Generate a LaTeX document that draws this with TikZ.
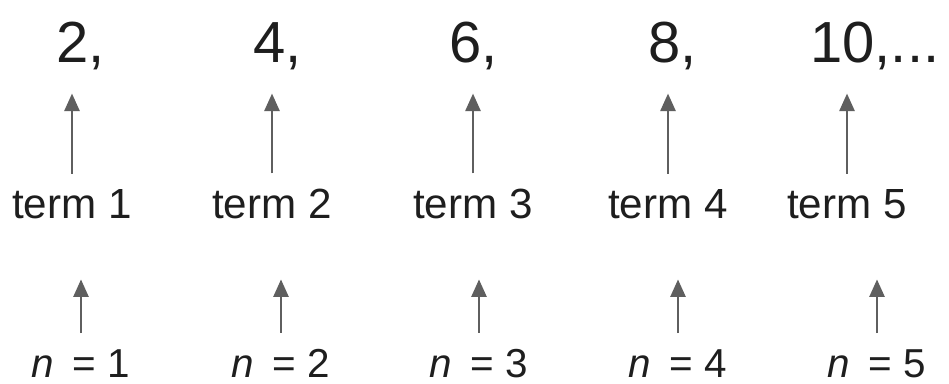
\documentclass[tikz,border=0pt]{standalone}
\usepackage{fontspec}
\setmainfont{Liberation Sans}
\usetikzlibrary{arrows.meta,positioning}
\definecolor{arrowGrey}{RGB}{95,95,95}
\definecolor{textDark}{RGB}{30,30,30}
\tikzset{
  seqnum/.style={anchor=base west, inner sep=0pt, text=textDark, font=\fontsize{33}{36}\selectfont},
  termlbl/.style={anchor=base, inner sep=2pt, text=textDark, font=\fontsize{24}{28}\selectfont},
  nlbl/.style={anchor=base, inner sep=2pt, text=textDark, font=\fontsize{23}{28}\selectfont},
  uparrow/.style={-{Triangle[length=10pt, width=8.5pt]}, line width=1.6pt, arrowGrey}
}
\begin{document}
\begin{tikzpicture}[x=0.02cm, y=-0.02cm]
  \useasboundingbox[fill=white] (0,0) rectangle (949,383);
  % Sequence values
  \node[seqnum] (num1) at (56,62) {2,};
  \node[seqnum] (num2) at (253,62) {4,};
  \node[seqnum] (num3) at (449,62) {6,};
  \node[seqnum] (num4) at (648,62) {8,};
  \node[seqnum] (num5) at (810,62) {10,...};
  % Terms
  \node[termlbl] (term1) at (72,218) {term 1};
  \node[termlbl] (term2) at (272,218) {term 2};
  \node[termlbl] (term3) at (473,218) {term 3};
  \node[termlbl] (term4) at (668,218) {term 4};
  \node[termlbl] (term5) at (847,218) {term 5};
  % Positions
  \node[nlbl] (n1) at (81,377) {\textit{n}\hspace{0.45em}=\hspace{0.3em}1};
  \node[nlbl] (n2) at (281,377) {\textit{n}\hspace{0.45em}=\hspace{0.3em}2};
  \node[nlbl] (n3) at (479,377) {\textit{n}\hspace{0.45em}=\hspace{0.3em}3};
  \node[nlbl] (n4) at (678,377) {\textit{n}\hspace{0.45em}=\hspace{0.3em}4};
  \node[nlbl] (n5) at (877,377) {\textit{n}\hspace{0.45em}=\hspace{0.3em}5};
  % Arrows
  \foreach \i in {1,...,5} {
    \draw[uparrow, shorten <=6.5pt, shorten >=13.5pt] (term\i.north) -- (term\i.north |- num\i.south);
    \draw[uparrow, shorten <=7pt, shorten >=32.5pt] (n\i.north) -- (n\i.north |- term\i.south);
  }
\end{tikzpicture}
\end{document}
